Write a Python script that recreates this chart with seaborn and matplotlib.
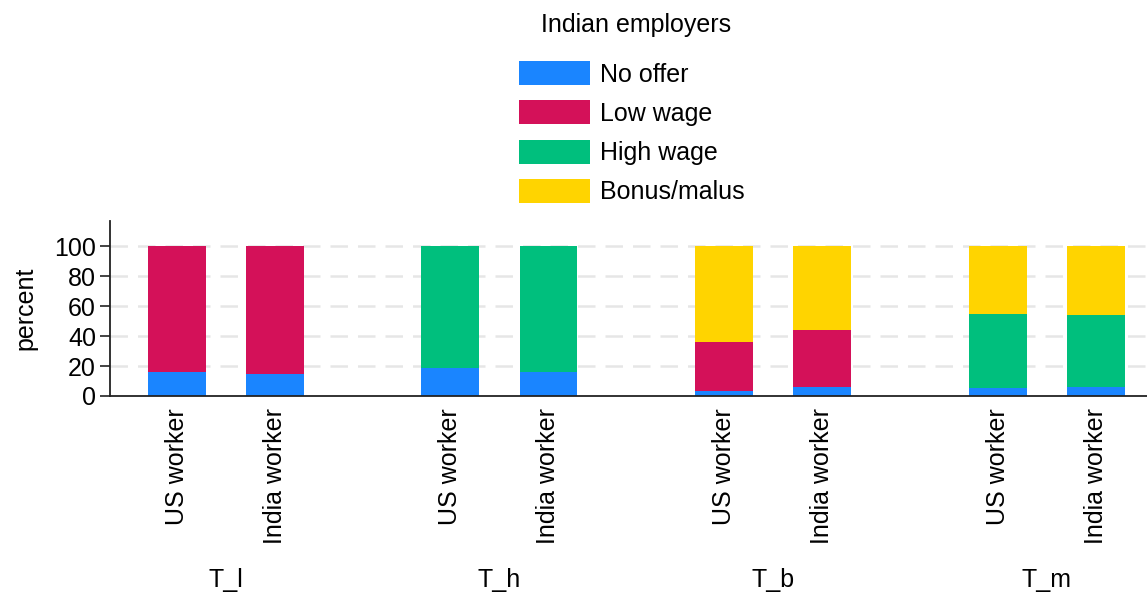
import seaborn as sns
import pandas as pd
import numpy as np
import matplotlib.pyplot as plt
import matplotlib.transforms as mtransforms
from matplotlib.patches import Patch

# data (percent)
treatments = ["T_l", "T_h", "T_b", "T_m"]
workers = ["US worker", "India worker"]
categories = ["No offer", "Low wage", "High wage", "Bonus/malus"]
colors = ["#1a85ff", "#d41159", "#00bf7d", "#ffd400"]

no_offer = [16.0, 14.7, 18.4, 16.0, 3.1, 5.8, 5.6, 6.0]
low_wage = [84.0, 85.3, 0.0, 0.0, 33.3, 38.0, 0.0, 0.0]
high_wage = [0.0, 0.0, 81.6, 84.0, 0.0, 0.0, 49.5, 48.4]
bonus_malus = [0.0, 0.0, 0.0, 0.0, 63.6, 56.2, 44.9, 45.6]

sns.set_theme(style="white")
plt.rcParams["font.family"] = ["Liberation Sans", "DejaVu Sans"]
plt.rcParams["text.color"] = "black"
plt.rcParams["xtick.color"] = "black"
plt.rcParams["ytick.color"] = "black"
plt.rcParams["axes.labelcolor"] = "black"

FS = 18
group_step = 2.79
rows = []
for g, t in enumerate(treatments):
    for w, wk in enumerate(workers):
        i = g * 2 + w
        rows.append({"treatment": t, "worker": wk, "pos": round(g * group_step + w, 2),
                     "No offer": no_offer[i], "Low wage": low_wage[i],
                     "High wage": high_wage[i], "Bonus/malus": bonus_malus[i]})
df = pd.DataFrame(rows)

# stacked tops
cum = df[categories].cumsum(axis=1)

fig = plt.figure(figsize=(11.47, 5.98), dpi=100)
ax = fig.add_axes([0.0959, 0.3378, 0.904, 0.2926])

for cat, col in reversed(list(zip(categories, colors))):
    sns.barplot(x=df["pos"], y=cum[cat], native_scale=True, width=0.59,
                color=col, saturation=1, edgecolor="none", ax=ax)

ax.set_ylim(0, 117)
ax.set_xlim(-0.68, df["pos"].max() + 0.52)
ax.set_yticks([0, 20, 40, 60, 80, 100])
for yv in [20, 40, 60, 80, 100]:
    ax.axhline(yv, color="#e6e6e6", lw=1.8, ls=(0, (7, 4)), zorder=0)
ax.set_xticks(df["pos"])
ax.set_xticklabels(df["worker"], rotation=90, va="top")
ax.tick_params(axis="x", length=0, pad=9, labelsize=FS)
ax.tick_params(axis="y", length=7, width=1.2, pad=3, labelsize=FS, left=True, color="#222222")
ax.set_xlabel("")
ax.set_ylabel("percent", fontsize=FS, labelpad=12)
sns.despine(ax=ax)
for s in ["left", "bottom"]:
    ax.spines[s].set_color("#222222")
    ax.spines[s].set_linewidth(1.3)

trans = mtransforms.blended_transform_factory(ax.transData, fig.transFigure)
for g, t in enumerate(treatments):
    ax.text(g * group_step + 0.5, 1 - 580 / 598, t, transform=trans, ha="center", va="center", fontsize=FS)

fig.text(636 / 1147, 1 - 25 / 598, "Indian employers", ha="center", va="center", fontsize=FS)
handles = [Patch(facecolor=c, edgecolor="none", label=l) for c, l in zip(colors, categories)]
fig.legend(handles=handles, loc="upper left", bbox_to_anchor=(519 / 1147, 1 - 61 / 598),
           borderaxespad=0, borderpad=0, frameon=False, fontsize=FS,
           handlelength=2.85, handleheight=1.1, handletextpad=0.4, labelspacing=0.55)

fig.savefig("out.png", dpi=100)
